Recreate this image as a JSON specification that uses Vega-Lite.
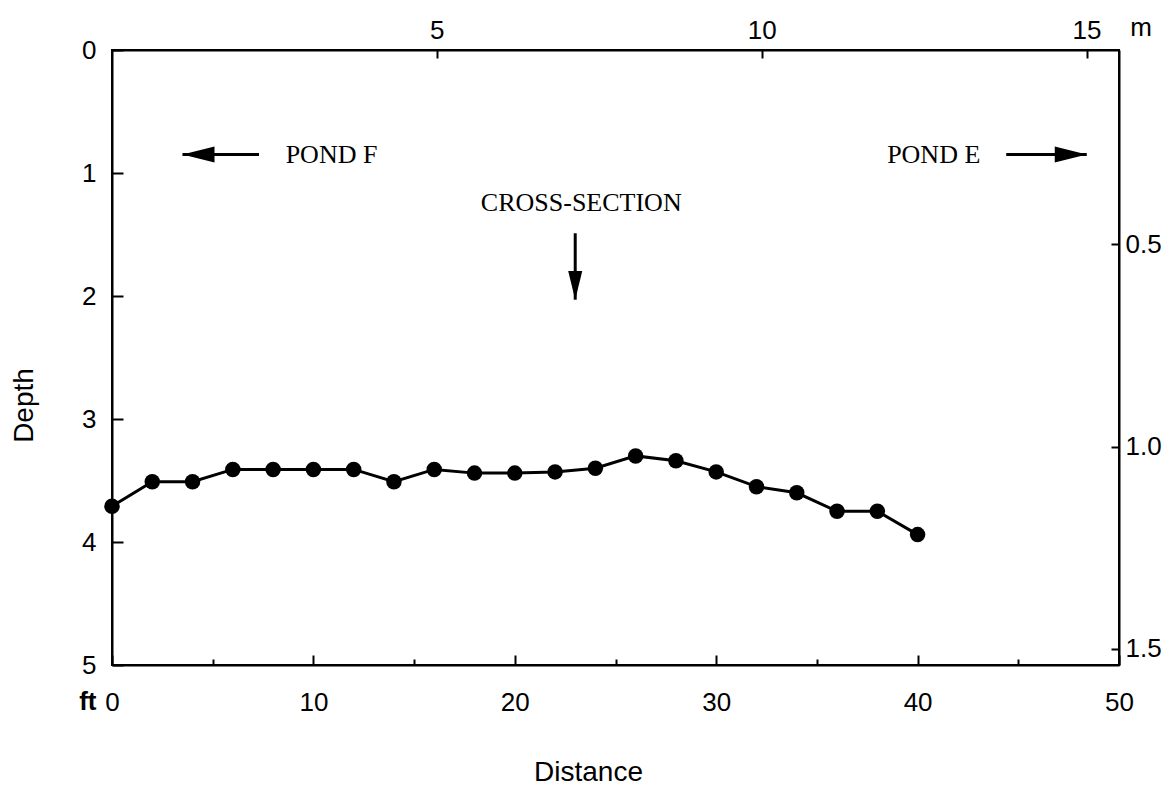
{
  "$schema": "https://vega.github.io/schema/vega-lite/v6.json",
  "autosize": "none",
  "width": 1007,
  "height": 615,
  "padding": {"left": 112, "top": 50, "right": 57, "bottom": 120},
  "background": "white",
  "config": {
    "view": {"stroke": "black", "strokeWidth": 2},
    "axis": {
      "domainColor": "black", "domainWidth": 2, "tickColor": "black", "tickWidth": 2,
      "labelFont": "Liberation Sans", "labelFontSize": 26, "labelColor": "black",
      "titleFont": "Liberation Sans", "titleFontSize": 28, "titleFontWeight": "normal", "titleColor": "black",
      "grid": false
    }
  },
  "datasets": {
    "profile": [
      {"distance": 0, "depth": 3.71}, {"distance": 2, "depth": 3.51}, {"distance": 4, "depth": 3.51},
      {"distance": 6, "depth": 3.41}, {"distance": 8, "depth": 3.41}, {"distance": 10, "depth": 3.41},
      {"distance": 12, "depth": 3.41}, {"distance": 14, "depth": 3.51}, {"distance": 16, "depth": 3.41},
      {"distance": 18, "depth": 3.44}, {"distance": 20, "depth": 3.44}, {"distance": 22, "depth": 3.43},
      {"distance": 24, "depth": 3.40}, {"distance": 26, "depth": 3.30}, {"distance": 28, "depth": 3.34},
      {"distance": 30, "depth": 3.43}, {"distance": 32, "depth": 3.55}, {"distance": 34, "depth": 3.60},
      {"distance": 36, "depth": 3.75}, {"distance": 38, "depth": 3.75}, {"distance": 40, "depth": 3.94}
    ],
    "labels": [
      {"distance": 10.9, "depth": 0.85, "label": "POND F"},
      {"distance": 40.8, "depth": 0.85, "label": "POND E"},
      {"distance": 23.3, "depth": 1.24, "label": "CROSS-SECTION"}
    ],
    "arrows": [
      {"distance": 7.3, "depth": 0.85, "distance2": 3.5, "depth2": 0.85},
      {"distance": 44.4, "depth": 0.85, "distance2": 48.4, "depth2": 0.85},
      {"distance": 23.0, "depth": 1.49, "distance2": 23.0, "depth2": 2.03}
    ],
    "heads": [
      {"distance": 3.5, "depth": 0.85, "dir": "left"},
      {"distance": 48.4, "depth": 0.85, "dir": "right"},
      {"distance": 23.0, "depth": 2.03, "dir": "down"}
    ],
    "unitFt": [{"distance": -1.2, "depth": 5.3, "unit": "ft"}],
    "unitM": [{"distance": 51.1, "depth": -0.18, "unit": "m"}],
    "metric": [{"m": 0, "md": 0}]
  },
  "layer": [
    {
      "encoding": {
        "x": {
          "field": "distance", "type": "quantitative", "title": "Distance",
          "scale": {"domain": [0, 50], "nice": false, "zero": false},
          "axis": {
            "orient": "bottom", "values": [0, 5, 10, 15, 20, 25, 30, 35, 40, 45, 50],
            "labelExpr": "datum.value % 10 === 0 ? datum.label : ''",
            "tickSize": {"condition": {"test": "datum.value % 10 === 0", "value": -10}, "value": -6},
            "labelPadding": 34, "labelFlush": false,
            "titleX": 476, "titleY": 107, "titleBaseline": "middle", "titleAlign": "center"
          }
        },
        "y": {
          "field": "depth", "type": "quantitative", "title": "Depth",
          "scale": {"domain": [0, 5], "reverse": true, "nice": false, "zero": false},
          "axis": {
            "orient": "left", "values": [0, 0.5, 1, 1.5, 2, 2.5, 3, 3.5, 4, 4.5, 5], "format": "d",
            "labelExpr": "datum.value % 1 === 0 ? datum.label : ''",
            "tickSize": {"condition": {"test": "datum.value % 1 === 0", "value": -11}, "value": -6},
            "labelPadding": 27, "labelFlush": false,
            "titleX": -88, "titleY": 355, "titleAngle": -90, "titleBaseline": "middle", "titleAlign": "center"
          }
        }
      },
      "layer": [
        {"data": {"name": "profile"}, "mark": {"type": "line", "color": "black", "strokeWidth": 3}},
        {"data": {"name": "profile"}, "mark": {"type": "point", "filled": true, "color": "black", "opacity": 1, "size": 240}},
        {
          "data": {"name": "labels"},
          "mark": {"type": "text", "font": "Liberation Serif", "fontSize": 26, "color": "black", "baseline": "middle", "align": "center"},
          "encoding": {"text": {"field": "label"}}
        },
        {
          "data": {"name": "arrows"},
          "mark": {"type": "rule", "color": "black", "strokeWidth": 3},
          "encoding": {"x2": {"field": "distance2"}, "y2": {"field": "depth2"}}
        },
        {
          "data": {"name": "heads"},
          "mark": {"type": "point", "filled": true, "color": "black", "opacity": 1, "size": 4096},
          "encoding": {
            "shape": {
              "field": "dir", "type": "nominal", "legend": null,
              "scale": {"domain": ["left", "right", "down"], "range": ["M0,0L1,-0.25L1,0.25Z", "M0,0L-1,-0.25L-1,0.25Z", "M0,0L-0.22,-0.9L0.22,-0.9Z"]}
            }
          }
        },
        {
          "data": {"name": "unitFt"},
          "mark": {"type": "text", "font": "Liberation Sans", "fontSize": 26, "fontWeight": "bold", "color": "black", "baseline": "middle", "align": "center"},
          "encoding": {"text": {"field": "unit"}}
        },
        {
          "data": {"name": "unitM"},
          "mark": {"type": "text", "font": "Liberation Sans", "fontSize": 26, "color": "black", "baseline": "middle", "align": "center"},
          "encoding": {"text": {"field": "unit"}}
        }
      ]
    },
    {
      "data": {"name": "metric"},
      "mark": {"type": "point", "opacity": 0},
      "encoding": {
        "x": {
          "field": "m", "type": "quantitative", "title": null,
          "scale": {"domain": [0, 15.5], "nice": false, "zero": false},
          "axis": {"orient": "top", "values": [5, 10, 15], "tickSize": -8, "labelPadding": 15, "labelFlush": false}
        },
        "y": {
          "field": "md", "type": "quantitative", "title": null,
          "scale": {"domain": [0.02, 1.54], "reverse": true, "nice": false, "zero": false},
          "axis": {"orient": "right", "values": [0.5, 1.0, 1.5], "format": ".1f", "tickSize": -8, "labelPadding": 14, "labelFlush": false}
        }
      }
    }
  ],
  "resolve": {"scale": {"x": "independent", "y": "independent"}}
}
